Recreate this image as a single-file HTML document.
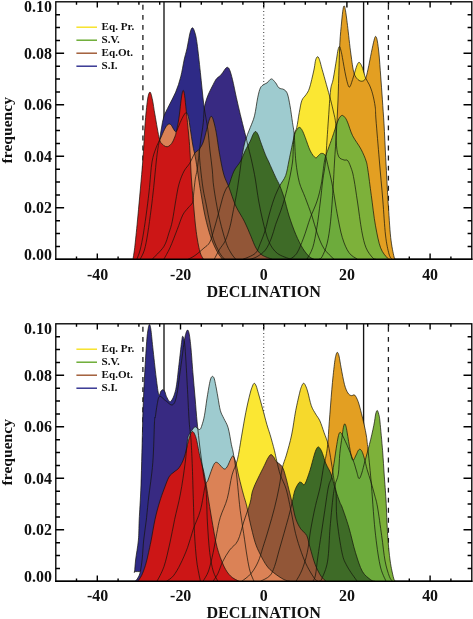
<!DOCTYPE html>
<html><head><meta charset="utf-8"><title>Declination frequency</title>
<style>
html,body{margin:0;padding:0;background:#fff;}
svg{display:block}
text{font-family:"Liberation Serif",serif;font-weight:bold;fill:#111}
.tk{font-size:16.8px}
.ax{font-size:16.5px}
.lg{font-size:11.1px}
</style></head><body>
<svg width="473" height="619" viewBox="0 0 473 619">
<rect width="473" height="619" fill="#fff"/>
<g transform="translate(0,0.0)">
<rect x="55.8" y="1.8" width="416" height="257.5" fill="none" stroke="#000" stroke-width="1.35"/>
<path d="M76.50,259.3v-2.9M76.50,1.8v2.9M97.30,259.3v-5.8M97.30,1.8v5.8M118.10,259.3v-2.9M118.10,1.8v2.9M138.90,259.3v-2.9M138.90,1.8v2.9M159.70,259.3v-2.9M159.70,1.8v2.9M180.50,259.3v-5.8M180.50,1.8v5.8M201.30,259.3v-2.9M201.30,1.8v2.9M222.10,259.3v-2.9M222.10,1.8v2.9M242.90,259.3v-2.9M242.90,1.8v2.9M263.70,259.3v-5.8M263.70,1.8v5.8M284.50,259.3v-2.9M284.50,1.8v2.9M305.30,259.3v-2.9M305.30,1.8v2.9M326.10,259.3v-2.9M326.10,1.8v2.9M346.90,259.3v-5.8M346.90,1.8v5.8M367.70,259.3v-2.9M367.70,1.8v2.9M388.50,259.3v-2.9M388.50,1.8v2.9M409.30,259.3v-2.9M409.30,1.8v2.9M430.10,259.3v-5.8M430.10,1.8v5.8M450.90,259.3v-2.9M450.90,1.8v2.9M55.8,246.43h4.2M471.8,246.43h-4.2M55.8,233.55h4.2M471.8,233.55h-4.2M55.8,220.68h4.2M471.8,220.68h-4.2M55.8,207.80h8.3M471.8,207.80h-8.3M55.8,194.93h4.2M471.8,194.93h-4.2M55.8,182.05h4.2M471.8,182.05h-4.2M55.8,169.18h4.2M471.8,169.18h-4.2M55.8,156.30h8.3M471.8,156.30h-8.3M55.8,143.43h4.2M471.8,143.43h-4.2M55.8,130.55h4.2M471.8,130.55h-4.2M55.8,117.68h4.2M471.8,117.68h-4.2M55.8,104.80h8.3M471.8,104.80h-8.3M55.8,91.93h4.2M471.8,91.93h-4.2M55.8,79.05h4.2M471.8,79.05h-4.2M55.8,66.18h4.2M471.8,66.18h-4.2M55.8,53.30h8.3M471.8,53.30h-8.3M55.8,40.43h4.2M471.8,40.43h-4.2M55.8,27.55h4.2M471.8,27.55h-4.2M55.8,14.68h4.2M471.8,14.68h-4.2" stroke="#000" stroke-width="1.4" fill="none"/>
<line x1="142.9" y1="1.8" x2="142.9" y2="259.3" stroke="#1c1c1c" stroke-width="1.3" stroke-dasharray="4.9,5.15" stroke-dashoffset="-3.05"/>
<line x1="388.4" y1="1.8" x2="388.4" y2="259.3" stroke="#1c1c1c" stroke-width="1.3" stroke-dasharray="4.9,5.15" stroke-dashoffset="-3.05"/>
<line x1="164" y1="2" x2="164" y2="259.3" stroke="#141414" stroke-width="1.35"/>
<line x1="363.6" y1="2" x2="363.6" y2="259.3" stroke="#141414" stroke-width="1.35"/>
<line x1="263.7" y1="1.8" x2="263.7" y2="259.3" stroke="#4a4a4a" stroke-width="1.1" stroke-dasharray="1.2,2.3" stroke-dashoffset="-2.1"/>
<clipPath id="clipa"><rect x="56" y="2" width="415.5" height="257.3"/></clipPath>
<g clip-path="url(#clipa)">
<path d="M140.1,259.3C140.8,257.8 143.1,254.4 144.4,250.0C145.7,245.6 146.7,239.8 147.8,233.0C148.9,226.2 150.1,217.0 151.1,209.4C152.1,201.8 152.8,195.3 153.7,187.4C154.5,179.5 155.5,168.6 156.2,162.0C156.9,155.4 157.4,151.8 158.0,148.0C158.6,144.2 159.0,142.8 159.6,139.5C160.2,136.2 160.8,131.8 161.5,128.0C162.2,124.2 162.6,120.4 163.8,116.7C165.0,113.0 166.9,109.8 168.9,105.7C170.9,101.6 173.7,96.9 175.7,92.1C177.7,87.3 179.3,82.2 180.7,76.9C182.1,71.6 183.1,64.7 184.1,60.0C185.1,55.3 185.9,53.4 186.9,48.9C187.9,44.4 189.1,36.5 190.0,33.0C190.9,29.5 191.7,27.8 192.5,27.8C193.3,27.8 194.2,30.3 195.0,33.0C195.8,35.7 196.2,37.2 197.1,43.8C198.0,50.4 199.3,62.4 200.4,72.6C201.5,82.8 202.6,95.2 203.8,104.7C205.0,114.2 206.8,121.7 207.8,129.4C208.8,137.1 209.2,144.2 210.0,151.0C210.8,157.8 211.7,163.9 212.3,170.0C212.9,176.1 212.7,179.7 213.8,187.4C214.9,195.1 216.9,207.1 218.9,216.1C220.9,225.1 223.7,235.3 225.7,241.5C227.7,247.7 229.3,250.0 231.0,253.0C232.7,256.0 235.0,258.2 235.8,259.3Z" fill="#2e2a86"/>
<path d="M163.8,259.3C164.8,257.4 167.8,252.6 170.0,247.7C172.2,242.8 175.1,235.0 177.2,229.6C179.3,224.2 180.9,218.7 182.7,215.1C184.5,211.5 186.4,210.0 188.1,207.9C189.8,205.8 191.7,204.6 192.6,202.5C193.5,200.4 193.1,199.1 193.5,195.2C193.9,191.3 194.7,183.2 195.3,179.0C195.9,174.8 196.5,174.0 197.1,170.0C197.7,166.0 198.4,159.7 199.0,155.0C199.6,150.3 199.8,147.3 200.5,141.9C201.2,136.5 202.7,128.2 203.3,122.6C203.9,116.9 203.8,111.9 204.3,108.0C204.9,104.1 205.8,101.6 206.6,99.0C207.4,96.4 208.1,94.9 209.2,92.5C210.3,90.1 211.9,87.0 213.1,84.7C214.3,82.4 215.0,80.5 216.3,78.9C217.6,77.3 219.6,76.4 220.9,75.0C222.2,73.6 223.2,71.7 224.1,70.5C224.9,69.3 225.5,68.5 226.0,68.0C226.5,67.5 226.9,67.3 227.3,67.3C227.7,67.3 228.2,67.5 228.6,68.0C229.0,68.5 229.2,68.6 229.9,70.5C230.6,72.4 231.4,75.1 232.5,79.6C233.6,84.1 235.1,91.9 236.4,97.7C237.7,103.5 238.9,108.7 240.3,114.5C241.7,120.3 243.4,127.0 244.8,132.6C246.2,138.2 247.3,143.1 248.5,148.0C249.7,152.9 250.8,156.8 251.9,162.0C253.0,167.2 254.2,172.5 255.3,179.0C256.4,185.5 257.4,194.0 258.7,201.0C260.0,208.0 261.2,214.4 262.9,221.2C264.6,227.9 266.4,236.2 268.8,241.5C271.2,246.8 273.6,250.3 277.3,253.3C281.0,256.3 288.6,258.3 290.8,259.3Z" fill="#382a82"/>
<path d="M214.2,259.3C215.1,257.7 217.6,252.7 219.4,249.6C221.2,246.5 223.6,244.4 225.3,240.7C227.0,237.0 228.4,232.6 229.8,227.4C231.2,222.2 232.4,215.0 233.5,209.6C234.6,204.2 235.5,199.7 236.4,194.8C237.3,189.9 238.0,184.6 238.7,180.0C239.4,175.4 239.9,171.3 240.5,167.0C241.1,162.7 241.6,158.6 242.4,154.3C243.2,150.0 243.8,145.6 245.1,141.2C246.4,136.8 248.6,131.9 250.2,127.7C251.8,123.5 253.2,120.9 254.5,115.8C255.8,110.7 256.8,101.8 257.8,97.2C258.8,92.6 259.4,90.0 260.4,87.9C261.4,85.8 262.7,85.3 263.8,84.5C264.9,83.7 265.8,83.7 267.1,82.8C268.4,81.9 270.0,78.9 271.4,78.9C272.8,78.9 274.3,81.3 275.6,82.8C276.9,84.3 277.6,86.8 279.0,87.9C280.4,89.0 282.6,88.6 284.0,89.6C285.4,90.6 286.4,91.1 287.4,93.8C288.4,96.5 289.1,100.9 290.0,105.7C290.9,110.5 291.8,117.8 292.5,122.6C293.2,127.4 293.6,127.8 294.2,134.4C294.8,141.0 295.0,154.0 295.9,162.0C296.8,170.0 297.8,176.4 299.3,182.3C300.9,188.2 303.1,191.9 305.2,197.5C307.3,203.1 310.0,210.2 312.0,216.1C314.0,222.0 315.1,227.6 317.1,233.0C319.1,238.4 321.0,243.9 323.8,248.3C326.6,252.7 332.3,257.5 334.0,259.3Z" fill="#9ecbcf"/>
<path d="M250.0,259.3C251.2,258.9 254.4,258.2 257.0,256.7C259.6,255.1 263.0,253.1 265.4,250.0C267.8,246.9 269.7,242.3 271.4,238.1C273.1,233.9 274.1,229.1 275.6,224.6C277.2,220.1 279.1,215.5 280.7,211.0C282.2,206.5 283.5,202.6 284.9,197.5C286.3,192.4 287.8,186.5 289.1,180.6C290.4,174.7 291.8,167.4 292.5,162.0C293.2,156.6 293.0,152.6 293.3,148.0C293.6,143.4 293.6,137.8 294.2,134.4C294.8,131.0 295.8,131.4 296.7,127.7C297.6,124.0 298.4,116.9 299.3,112.4C300.2,107.9 300.7,103.5 301.8,100.6C302.9,97.6 304.7,96.8 306.0,94.7C307.3,92.6 308.2,92.0 309.5,88.0C310.8,84.0 312.7,75.4 313.7,71.0C314.7,66.6 314.9,63.7 315.3,61.5C315.8,59.3 316.0,58.8 316.4,58.0C316.8,57.2 317.2,56.7 317.6,56.7C318.0,56.7 318.4,57.2 318.8,58.0C319.2,58.8 319.4,59.6 320.0,61.5C320.6,63.4 321.0,65.5 322.1,69.3C323.2,73.1 325.0,79.5 326.4,84.6C327.8,89.7 329.4,95.2 330.6,99.8C331.8,104.4 332.6,108.0 333.5,112.0C334.4,116.0 335.2,118.2 335.7,123.8C336.2,129.4 336.0,140.3 336.5,145.8C337.0,151.3 337.6,154.4 338.8,156.8C340.1,159.2 342.5,159.3 344.0,160.0C345.5,160.7 346.5,159.1 347.8,160.7C349.1,162.3 350.6,166.5 351.7,169.7C352.8,172.9 353.1,174.6 354.1,180.0C355.1,185.4 356.2,193.6 357.5,202.0C358.8,210.4 360.3,223.1 361.7,230.7C363.1,238.3 364.2,243.2 366.0,247.7C367.8,252.2 371.0,255.9 372.7,257.8C374.4,259.7 375.4,259.1 376.0,259.3Z" fill="#fbe733"/>
<path d="M306.8,259.3C307.8,257.4 311.0,253.0 312.7,247.7C314.4,242.4 315.6,235.0 316.9,227.4C318.2,219.8 319.3,209.9 320.3,202.0C321.3,194.1 321.9,186.7 322.8,180.0C323.7,173.3 324.8,168.7 325.5,162.0C326.2,155.3 326.5,147.3 327.0,140.0C327.5,132.7 327.9,126.3 328.5,118.0C329.1,109.7 329.8,96.4 330.6,90.0C331.4,83.6 332.1,84.6 333.1,79.5C334.1,74.4 335.7,64.1 336.5,59.2C337.3,54.3 337.5,52.1 338.0,50.0C338.5,47.9 338.9,46.5 339.4,46.5C339.9,46.5 340.3,48.2 340.8,50.0C341.3,51.8 341.6,53.1 342.4,57.5C343.2,61.9 344.7,71.2 345.8,76.1C346.9,81.0 348.1,86.5 349.2,87.1C350.3,87.7 351.6,82.2 352.6,79.5C353.6,76.8 354.3,73.5 355.1,71.0C355.9,68.5 356.6,66.0 357.3,64.5C358.0,63.0 358.5,62.3 359.1,62.3C359.7,62.3 360.4,63.5 361.0,64.5C361.6,65.5 361.9,66.3 362.7,68.5C363.4,70.7 364.4,75.1 365.5,77.8C366.6,80.5 368.2,82.2 369.4,84.9C370.6,87.6 371.6,90.2 372.6,93.9C373.6,97.6 374.6,102.5 375.2,106.8C375.8,111.1 375.3,111.1 376.0,120.0C376.7,128.9 378.2,146.7 379.3,160.0C380.4,173.3 381.8,187.5 382.8,200.0C383.8,212.5 384.5,226.0 385.5,235.0C386.5,244.0 387.9,249.9 389.0,254.0C390.1,258.1 391.5,258.4 392.0,259.3Z" fill="#f6d92c"/>
<path d="M318.8,259.3C319.4,258.9 320.7,259.4 322.1,256.7C323.5,254.0 325.8,249.1 327.2,243.2C328.6,237.3 329.6,230.5 330.6,221.2C331.6,211.9 332.5,197.3 333.1,187.4C333.8,177.5 333.9,171.6 334.5,162.0C335.1,152.4 335.9,140.3 336.5,130.0C337.1,119.7 337.6,110.4 338.0,100.0C338.4,89.6 338.7,77.3 339.0,67.7C339.3,58.1 339.5,49.9 339.9,42.3C340.3,34.7 341.1,27.5 341.6,22.0C342.1,16.5 342.6,12.2 343.0,9.5C343.4,6.8 343.7,5.9 344.1,5.9C344.5,5.9 344.7,6.2 345.3,9.5C345.9,12.8 346.6,18.0 347.5,25.4C348.4,32.8 349.8,46.2 350.9,54.1C352.0,62.0 352.7,68.5 353.9,72.7C355.1,76.9 356.5,78.1 357.9,79.5C359.3,80.9 360.8,81.4 362.1,81.2C363.4,81.0 364.5,80.6 365.5,78.6C366.5,76.6 367.0,73.7 368.0,69.3C369.0,64.9 370.4,57.2 371.4,52.4C372.4,47.6 373.3,43.2 374.0,40.5C374.7,37.8 375.1,36.3 375.7,36.4C376.2,36.5 376.8,38.0 377.3,41.0C377.9,44.0 378.4,48.2 379.0,54.1C379.6,60.0 380.1,68.5 380.7,76.1C381.3,83.7 381.8,91.8 382.4,99.8C382.9,107.8 383.4,114.2 384.0,123.8C384.6,133.4 385.1,146.7 385.7,157.7C386.3,168.7 387.0,182.1 387.4,189.8C387.8,197.5 387.6,195.8 388.2,203.8C388.8,211.8 389.7,228.7 390.7,237.6C391.7,246.5 393.2,253.4 394.1,257.0C395.0,260.6 395.7,258.9 396.0,259.3Z" fill="#e39f22"/>
<path d="M290.0,259.3C291.1,258.3 294.6,256.8 296.8,253.3C299.1,249.8 301.2,244.0 303.5,238.1C305.8,232.2 308.0,224.0 310.3,217.8C312.6,211.6 315.3,206.5 317.1,200.9C318.9,195.3 320.0,190.8 321.3,184.0C322.6,177.2 323.6,165.8 324.7,160.0C325.8,154.2 326.8,153.0 328.1,149.2C329.4,145.4 330.8,141.9 332.3,137.4C333.9,132.9 336.1,125.5 337.4,122.1C338.7,118.7 339.2,118.1 340.0,117.0C340.8,115.9 341.6,115.3 342.4,115.4C343.2,115.5 344.1,116.4 345.0,117.5C345.9,118.6 346.2,119.1 347.5,122.1C348.8,125.1 350.4,131.2 352.6,135.7C354.9,140.2 358.8,145.0 361.0,149.2C363.2,153.4 365.0,157.5 366.1,161.0C367.2,164.5 367.0,164.3 367.9,170.0C368.8,175.7 370.0,186.1 371.3,195.4C372.6,204.7 373.9,217.1 375.5,225.8C377.1,234.5 378.6,242.4 380.6,247.8C382.6,253.2 385.8,256.1 387.4,258.0C389.0,259.9 389.6,259.1 390.0,259.3Z" fill="#7db13a"/>
<path d="M243.0,259.3C245.1,258.3 252.4,256.0 255.3,253.3C258.2,250.6 258.7,247.1 260.4,243.2C262.1,239.3 264.0,234.2 265.4,229.7C266.8,225.2 267.4,221.2 268.8,216.1C270.2,211.0 272.1,204.3 273.9,199.2C275.7,194.1 277.8,189.6 279.8,185.7C281.8,181.8 284.1,179.8 285.7,175.5C287.2,171.2 287.7,166.6 289.1,160.0C290.5,153.4 292.9,141.2 294.2,136.1C295.5,131.0 296.1,130.9 297.0,129.5C297.9,128.1 298.7,127.2 299.6,127.4C300.5,127.6 301.4,128.8 302.3,130.5C303.2,132.2 303.9,134.0 305.2,137.4C306.5,140.8 308.6,147.5 310.3,150.9C312.0,154.3 314.0,156.9 315.4,157.7C316.8,158.5 317.5,156.2 318.5,155.5C319.5,154.8 320.2,153.4 321.3,153.4C322.4,153.4 324.0,153.1 325.2,155.5C326.4,157.9 327.5,163.9 328.5,168.0C329.5,172.1 330.4,175.8 331.3,180.0C332.2,184.2 332.8,187.9 333.8,193.5C334.8,199.1 335.8,206.5 337.2,213.8C338.6,221.1 340.3,231.0 342.3,237.5C344.3,244.0 346.5,249.1 349.0,252.7C351.5,256.3 356.1,258.2 357.5,259.3Z" fill="#6dab3c"/>
<path d="M188.0,259.3C189.2,258.7 192.3,257.4 195.0,255.5C197.7,253.6 201.4,250.3 203.9,248.1C206.4,245.9 208.1,245.4 209.8,242.2C211.5,239.0 212.7,233.7 214.2,228.8C215.7,223.9 217.2,218.0 218.7,212.6C220.2,207.2 221.8,200.5 223.1,196.3C224.4,192.1 225.8,189.4 226.8,187.6C227.8,185.8 227.7,188.0 228.9,185.2C230.1,182.4 232.0,175.0 234.0,171.0C236.0,167.0 238.9,164.3 240.7,161.0C242.5,157.7 243.4,154.3 245.0,151.0C246.6,147.7 248.9,143.9 250.2,141.2C251.5,138.4 252.1,136.1 253.0,134.5C253.9,132.9 254.7,131.5 255.5,131.5C256.3,131.5 257.2,132.9 258.0,134.5C258.8,136.1 259.2,137.8 260.4,141.2C261.6,144.6 264.0,151.2 265.4,154.7C266.8,158.2 267.1,158.2 268.8,162.0C270.5,165.8 273.8,173.2 275.6,177.2C277.4,181.1 278.4,182.3 279.8,185.7C281.2,189.1 282.4,192.4 284.0,197.5C285.6,202.6 287.1,209.9 289.1,216.1C291.1,222.3 293.6,229.3 295.9,234.7C298.2,240.1 300.4,244.6 302.7,248.3C304.9,252.0 307.5,254.9 309.4,256.7C311.3,258.5 313.2,258.9 314.0,259.3Z" fill="#3e6b27"/>
<path d="M152.0,259.3C154.0,257.2 161.0,251.0 163.8,246.6C166.6,242.2 167.5,237.2 168.9,233.0C170.3,228.8 171.2,226.5 172.3,221.2C173.4,215.8 174.6,207.1 175.7,200.9C176.8,194.7 177.6,189.0 179.0,184.0C180.4,179.0 182.3,174.4 184.1,171.0C185.9,167.6 187.9,166.3 189.7,163.3C191.5,160.3 193.2,155.5 194.8,153.2C196.4,150.8 197.9,151.1 199.3,149.2C200.7,147.3 202.1,145.2 203.3,141.9C204.5,138.6 205.7,133.1 206.7,129.4C207.7,125.8 208.4,122.2 209.2,120.0C209.9,117.8 210.5,116.4 211.2,116.4C211.9,116.4 212.5,117.3 213.3,120.0C214.1,122.7 215.1,126.6 216.2,132.3C217.2,138.0 218.3,147.2 219.6,154.3C220.9,161.4 222.2,169.1 223.8,174.6C225.4,180.1 227.0,182.2 229.0,187.4C231.0,192.6 233.2,200.4 235.8,206.0C238.4,211.6 241.8,216.1 244.3,221.2C246.8,226.3 249.1,231.9 251.0,236.4C252.9,240.9 254.2,244.9 256.0,248.0C257.8,251.1 259.3,253.1 262.0,255.0C264.7,256.9 270.5,258.6 272.2,259.3Z" fill="#925637"/>
<path d="M136.8,259.3C137.4,257.8 139.0,254.4 140.1,250.0C141.2,245.6 142.4,239.8 143.5,233.0C144.6,226.2 145.9,217.0 146.9,209.4C147.9,201.8 148.7,195.3 149.5,187.4C150.3,179.5 150.9,168.6 152.0,162.0C153.1,155.4 154.6,152.0 156.0,148.0C157.4,144.0 159.3,141.1 160.7,138.0C162.1,134.9 163.4,131.6 164.5,129.5C165.6,127.4 166.2,126.2 167.0,125.3C167.8,124.4 168.8,124.0 169.5,124.0C170.2,124.0 170.8,124.7 171.5,125.5C172.2,126.3 172.7,128.0 173.5,129.0C174.3,130.0 175.1,132.6 176.2,131.5C177.3,130.4 178.8,125.5 180.1,122.7C181.4,119.9 182.9,116.6 184.0,114.9C185.1,113.2 185.8,112.3 186.6,112.8C187.4,113.3 188.0,115.4 188.6,118.0C189.2,120.6 189.5,123.8 190.2,128.3C190.9,132.8 192.0,140.5 192.8,145.2C193.6,149.9 194.5,152.8 195.2,156.6C195.9,160.4 196.2,162.2 197.1,168.0C198.0,173.8 199.3,183.4 200.7,191.6C202.1,199.8 203.6,209.5 205.3,217.0C207.0,224.5 208.8,231.1 210.7,236.8C212.6,242.5 215.0,247.6 217.0,251.3C219.0,255.1 221.6,258.0 222.5,259.3Z" fill="#db8256"/>
<path d="M133.0,259.3C133.3,256.9 134.2,252.4 135.0,245.0C135.8,237.6 136.7,228.8 138.0,215.0C139.3,201.2 141.5,177.0 142.7,162.0C143.9,147.0 144.2,135.3 145.0,125.0C145.8,114.7 146.7,105.5 147.5,100.0C148.3,94.5 149.2,92.1 150.0,92.1C150.8,92.1 151.7,96.2 152.5,100.0C153.3,103.8 153.8,108.4 155.0,115.0C156.2,121.6 158.2,134.5 159.6,139.5C161.0,144.5 162.2,143.7 163.3,144.9C164.4,146.1 165.1,146.4 166.0,146.6C166.9,146.8 167.6,146.8 168.5,146.3C169.4,145.8 170.7,144.8 171.7,143.4C172.7,142.1 173.6,140.0 174.3,138.2C175.1,136.4 175.4,135.6 176.2,132.4C176.9,129.2 178.1,123.7 178.8,118.8C179.6,113.9 180.2,107.4 180.7,103.3C181.2,99.2 181.6,96.3 182.0,94.2C182.4,92.1 182.9,90.3 183.3,90.5C183.7,90.7 184.1,92.0 184.6,95.5C185.1,99.0 185.6,104.9 186.3,111.3C187.0,117.7 188.0,127.5 188.6,134.0C189.2,140.4 189.4,142.8 189.9,150.0C190.4,157.2 190.7,168.0 191.3,177.0C191.9,186.0 192.7,194.9 193.5,204.0C194.3,213.1 195.1,223.5 196.2,231.4C197.2,239.3 198.6,246.7 199.8,251.3C201.0,256.0 202.9,258.0 203.5,259.3Z" fill="#cc1616"/>
<path d="M140.1,259.3C140.8,257.8 143.1,254.4 144.4,250.0C145.7,245.6 146.7,239.8 147.8,233.0C148.9,226.2 150.1,217.0 151.1,209.4C152.1,201.8 152.8,195.3 153.7,187.4C154.5,179.5 155.5,168.6 156.2,162.0C156.9,155.4 157.4,151.8 158.0,148.0C158.6,144.2 159.0,142.8 159.6,139.5C160.2,136.2 160.8,131.8 161.5,128.0C162.2,124.2 162.6,120.4 163.8,116.7C165.0,113.0 166.9,109.8 168.9,105.7C170.9,101.6 173.7,96.9 175.7,92.1C177.7,87.3 179.3,82.2 180.7,76.9C182.1,71.6 183.1,64.7 184.1,60.0C185.1,55.3 185.9,53.4 186.9,48.9C187.9,44.4 189.1,36.5 190.0,33.0C190.9,29.5 191.7,27.8 192.5,27.8C193.3,27.8 194.2,30.3 195.0,33.0C195.8,35.7 196.2,37.2 197.1,43.8C198.0,50.4 199.3,62.4 200.4,72.6C201.5,82.8 202.6,95.2 203.8,104.7C205.0,114.2 206.8,121.7 207.8,129.4C208.8,137.1 209.2,144.2 210.0,151.0C210.8,157.8 211.7,163.9 212.3,170.0C212.9,176.1 212.7,179.7 213.8,187.4C214.9,195.1 216.9,207.1 218.9,216.1C220.9,225.1 223.7,235.3 225.7,241.5C227.7,247.7 229.3,250.0 231.0,253.0C232.7,256.0 235.0,258.2 235.8,259.3" fill="none" stroke="#15150c" stroke-opacity="0.85" stroke-width="0.85"/>
<path d="M163.8,259.3C164.8,257.4 167.8,252.6 170.0,247.7C172.2,242.8 175.1,235.0 177.2,229.6C179.3,224.2 180.9,218.7 182.7,215.1C184.5,211.5 186.4,210.0 188.1,207.9C189.8,205.8 191.7,204.6 192.6,202.5C193.5,200.4 193.1,199.1 193.5,195.2C193.9,191.3 194.7,183.2 195.3,179.0C195.9,174.8 196.5,174.0 197.1,170.0C197.7,166.0 198.4,159.7 199.0,155.0C199.6,150.3 199.8,147.3 200.5,141.9C201.2,136.5 202.7,128.2 203.3,122.6C203.9,116.9 203.8,111.9 204.3,108.0C204.9,104.1 205.8,101.6 206.6,99.0C207.4,96.4 208.1,94.9 209.2,92.5C210.3,90.1 211.9,87.0 213.1,84.7C214.3,82.4 215.0,80.5 216.3,78.9C217.6,77.3 219.6,76.4 220.9,75.0C222.2,73.6 223.2,71.7 224.1,70.5C224.9,69.3 225.5,68.5 226.0,68.0C226.5,67.5 226.9,67.3 227.3,67.3C227.7,67.3 228.2,67.5 228.6,68.0C229.0,68.5 229.2,68.6 229.9,70.5C230.6,72.4 231.4,75.1 232.5,79.6C233.6,84.1 235.1,91.9 236.4,97.7C237.7,103.5 238.9,108.7 240.3,114.5C241.7,120.3 243.4,127.0 244.8,132.6C246.2,138.2 247.3,143.1 248.5,148.0C249.7,152.9 250.8,156.8 251.9,162.0C253.0,167.2 254.2,172.5 255.3,179.0C256.4,185.5 257.4,194.0 258.7,201.0C260.0,208.0 261.2,214.4 262.9,221.2C264.6,227.9 266.4,236.2 268.8,241.5C271.2,246.8 273.6,250.3 277.3,253.3C281.0,256.3 288.6,258.3 290.8,259.3" fill="none" stroke="#15150c" stroke-opacity="0.85" stroke-width="0.85"/>
<path d="M214.2,259.3C215.1,257.7 217.6,252.7 219.4,249.6C221.2,246.5 223.6,244.4 225.3,240.7C227.0,237.0 228.4,232.6 229.8,227.4C231.2,222.2 232.4,215.0 233.5,209.6C234.6,204.2 235.5,199.7 236.4,194.8C237.3,189.9 238.0,184.6 238.7,180.0C239.4,175.4 239.9,171.3 240.5,167.0C241.1,162.7 241.6,158.6 242.4,154.3C243.2,150.0 243.8,145.6 245.1,141.2C246.4,136.8 248.6,131.9 250.2,127.7C251.8,123.5 253.2,120.9 254.5,115.8C255.8,110.7 256.8,101.8 257.8,97.2C258.8,92.6 259.4,90.0 260.4,87.9C261.4,85.8 262.7,85.3 263.8,84.5C264.9,83.7 265.8,83.7 267.1,82.8C268.4,81.9 270.0,78.9 271.4,78.9C272.8,78.9 274.3,81.3 275.6,82.8C276.9,84.3 277.6,86.8 279.0,87.9C280.4,89.0 282.6,88.6 284.0,89.6C285.4,90.6 286.4,91.1 287.4,93.8C288.4,96.5 289.1,100.9 290.0,105.7C290.9,110.5 291.8,117.8 292.5,122.6C293.2,127.4 293.6,127.8 294.2,134.4C294.8,141.0 295.0,154.0 295.9,162.0C296.8,170.0 297.8,176.4 299.3,182.3C300.9,188.2 303.1,191.9 305.2,197.5C307.3,203.1 310.0,210.2 312.0,216.1C314.0,222.0 315.1,227.6 317.1,233.0C319.1,238.4 321.0,243.9 323.8,248.3C326.6,252.7 332.3,257.5 334.0,259.3" fill="none" stroke="#15150c" stroke-opacity="0.85" stroke-width="0.85"/>
<path d="M250.0,259.3C251.2,258.9 254.4,258.2 257.0,256.7C259.6,255.1 263.0,253.1 265.4,250.0C267.8,246.9 269.7,242.3 271.4,238.1C273.1,233.9 274.1,229.1 275.6,224.6C277.2,220.1 279.1,215.5 280.7,211.0C282.2,206.5 283.5,202.6 284.9,197.5C286.3,192.4 287.8,186.5 289.1,180.6C290.4,174.7 291.8,167.4 292.5,162.0C293.2,156.6 293.0,152.6 293.3,148.0C293.6,143.4 293.6,137.8 294.2,134.4C294.8,131.0 295.8,131.4 296.7,127.7C297.6,124.0 298.4,116.9 299.3,112.4C300.2,107.9 300.7,103.5 301.8,100.6C302.9,97.6 304.7,96.8 306.0,94.7C307.3,92.6 308.2,92.0 309.5,88.0C310.8,84.0 312.7,75.4 313.7,71.0C314.7,66.6 314.9,63.7 315.3,61.5C315.8,59.3 316.0,58.8 316.4,58.0C316.8,57.2 317.2,56.7 317.6,56.7C318.0,56.7 318.4,57.2 318.8,58.0C319.2,58.8 319.4,59.6 320.0,61.5C320.6,63.4 321.0,65.5 322.1,69.3C323.2,73.1 325.0,79.5 326.4,84.6C327.8,89.7 329.4,95.2 330.6,99.8C331.8,104.4 332.6,108.0 333.5,112.0C334.4,116.0 335.2,118.2 335.7,123.8C336.2,129.4 336.0,140.3 336.5,145.8C337.0,151.3 337.6,154.4 338.8,156.8C340.1,159.2 342.5,159.3 344.0,160.0C345.5,160.7 346.5,159.1 347.8,160.7C349.1,162.3 350.6,166.5 351.7,169.7C352.8,172.9 353.1,174.6 354.1,180.0C355.1,185.4 356.2,193.6 357.5,202.0C358.8,210.4 360.3,223.1 361.7,230.7C363.1,238.3 364.2,243.2 366.0,247.7C367.8,252.2 371.0,255.9 372.7,257.8C374.4,259.7 375.4,259.1 376.0,259.3" fill="none" stroke="#15150c" stroke-opacity="0.85" stroke-width="0.85"/>
<path d="M306.8,259.3C307.8,257.4 311.0,253.0 312.7,247.7C314.4,242.4 315.6,235.0 316.9,227.4C318.2,219.8 319.3,209.9 320.3,202.0C321.3,194.1 321.9,186.7 322.8,180.0C323.7,173.3 324.8,168.7 325.5,162.0C326.2,155.3 326.5,147.3 327.0,140.0C327.5,132.7 327.9,126.3 328.5,118.0C329.1,109.7 329.8,96.4 330.6,90.0C331.4,83.6 332.1,84.6 333.1,79.5C334.1,74.4 335.7,64.1 336.5,59.2C337.3,54.3 337.5,52.1 338.0,50.0C338.5,47.9 338.9,46.5 339.4,46.5C339.9,46.5 340.3,48.2 340.8,50.0C341.3,51.8 341.6,53.1 342.4,57.5C343.2,61.9 344.7,71.2 345.8,76.1C346.9,81.0 348.1,86.5 349.2,87.1C350.3,87.7 351.6,82.2 352.6,79.5C353.6,76.8 354.3,73.5 355.1,71.0C355.9,68.5 356.6,66.0 357.3,64.5C358.0,63.0 358.5,62.3 359.1,62.3C359.7,62.3 360.4,63.5 361.0,64.5C361.6,65.5 361.9,66.3 362.7,68.5C363.4,70.7 364.4,75.1 365.5,77.8C366.6,80.5 368.2,82.2 369.4,84.9C370.6,87.6 371.6,90.2 372.6,93.9C373.6,97.6 374.6,102.5 375.2,106.8C375.8,111.1 375.3,111.1 376.0,120.0C376.7,128.9 378.2,146.7 379.3,160.0C380.4,173.3 381.8,187.5 382.8,200.0C383.8,212.5 384.5,226.0 385.5,235.0C386.5,244.0 387.9,249.9 389.0,254.0C390.1,258.1 391.5,258.4 392.0,259.3" fill="none" stroke="#15150c" stroke-opacity="0.85" stroke-width="0.85"/>
<path d="M318.8,259.3C319.4,258.9 320.7,259.4 322.1,256.7C323.5,254.0 325.8,249.1 327.2,243.2C328.6,237.3 329.6,230.5 330.6,221.2C331.6,211.9 332.5,197.3 333.1,187.4C333.8,177.5 333.9,171.6 334.5,162.0C335.1,152.4 335.9,140.3 336.5,130.0C337.1,119.7 337.6,110.4 338.0,100.0C338.4,89.6 338.7,77.3 339.0,67.7C339.3,58.1 339.5,49.9 339.9,42.3C340.3,34.7 341.1,27.5 341.6,22.0C342.1,16.5 342.6,12.2 343.0,9.5C343.4,6.8 343.7,5.9 344.1,5.9C344.5,5.9 344.7,6.2 345.3,9.5C345.9,12.8 346.6,18.0 347.5,25.4C348.4,32.8 349.8,46.2 350.9,54.1C352.0,62.0 352.7,68.5 353.9,72.7C355.1,76.9 356.5,78.1 357.9,79.5C359.3,80.9 360.8,81.4 362.1,81.2C363.4,81.0 364.5,80.6 365.5,78.6C366.5,76.6 367.0,73.7 368.0,69.3C369.0,64.9 370.4,57.2 371.4,52.4C372.4,47.6 373.3,43.2 374.0,40.5C374.7,37.8 375.1,36.3 375.7,36.4C376.2,36.5 376.8,38.0 377.3,41.0C377.9,44.0 378.4,48.2 379.0,54.1C379.6,60.0 380.1,68.5 380.7,76.1C381.3,83.7 381.8,91.8 382.4,99.8C382.9,107.8 383.4,114.2 384.0,123.8C384.6,133.4 385.1,146.7 385.7,157.7C386.3,168.7 387.0,182.1 387.4,189.8C387.8,197.5 387.6,195.8 388.2,203.8C388.8,211.8 389.7,228.7 390.7,237.6C391.7,246.5 393.2,253.4 394.1,257.0C395.0,260.6 395.7,258.9 396.0,259.3" fill="none" stroke="#15150c" stroke-opacity="0.85" stroke-width="0.85"/>
<path d="M290.0,259.3C291.1,258.3 294.6,256.8 296.8,253.3C299.1,249.8 301.2,244.0 303.5,238.1C305.8,232.2 308.0,224.0 310.3,217.8C312.6,211.6 315.3,206.5 317.1,200.9C318.9,195.3 320.0,190.8 321.3,184.0C322.6,177.2 323.6,165.8 324.7,160.0C325.8,154.2 326.8,153.0 328.1,149.2C329.4,145.4 330.8,141.9 332.3,137.4C333.9,132.9 336.1,125.5 337.4,122.1C338.7,118.7 339.2,118.1 340.0,117.0C340.8,115.9 341.6,115.3 342.4,115.4C343.2,115.5 344.1,116.4 345.0,117.5C345.9,118.6 346.2,119.1 347.5,122.1C348.8,125.1 350.4,131.2 352.6,135.7C354.9,140.2 358.8,145.0 361.0,149.2C363.2,153.4 365.0,157.5 366.1,161.0C367.2,164.5 367.0,164.3 367.9,170.0C368.8,175.7 370.0,186.1 371.3,195.4C372.6,204.7 373.9,217.1 375.5,225.8C377.1,234.5 378.6,242.4 380.6,247.8C382.6,253.2 385.8,256.1 387.4,258.0C389.0,259.9 389.6,259.1 390.0,259.3" fill="none" stroke="#15150c" stroke-opacity="0.85" stroke-width="0.85"/>
<path d="M243.0,259.3C245.1,258.3 252.4,256.0 255.3,253.3C258.2,250.6 258.7,247.1 260.4,243.2C262.1,239.3 264.0,234.2 265.4,229.7C266.8,225.2 267.4,221.2 268.8,216.1C270.2,211.0 272.1,204.3 273.9,199.2C275.7,194.1 277.8,189.6 279.8,185.7C281.8,181.8 284.1,179.8 285.7,175.5C287.2,171.2 287.7,166.6 289.1,160.0C290.5,153.4 292.9,141.2 294.2,136.1C295.5,131.0 296.1,130.9 297.0,129.5C297.9,128.1 298.7,127.2 299.6,127.4C300.5,127.6 301.4,128.8 302.3,130.5C303.2,132.2 303.9,134.0 305.2,137.4C306.5,140.8 308.6,147.5 310.3,150.9C312.0,154.3 314.0,156.9 315.4,157.7C316.8,158.5 317.5,156.2 318.5,155.5C319.5,154.8 320.2,153.4 321.3,153.4C322.4,153.4 324.0,153.1 325.2,155.5C326.4,157.9 327.5,163.9 328.5,168.0C329.5,172.1 330.4,175.8 331.3,180.0C332.2,184.2 332.8,187.9 333.8,193.5C334.8,199.1 335.8,206.5 337.2,213.8C338.6,221.1 340.3,231.0 342.3,237.5C344.3,244.0 346.5,249.1 349.0,252.7C351.5,256.3 356.1,258.2 357.5,259.3" fill="none" stroke="#15150c" stroke-opacity="0.85" stroke-width="0.85"/>
<path d="M188.0,259.3C189.2,258.7 192.3,257.4 195.0,255.5C197.7,253.6 201.4,250.3 203.9,248.1C206.4,245.9 208.1,245.4 209.8,242.2C211.5,239.0 212.7,233.7 214.2,228.8C215.7,223.9 217.2,218.0 218.7,212.6C220.2,207.2 221.8,200.5 223.1,196.3C224.4,192.1 225.8,189.4 226.8,187.6C227.8,185.8 227.7,188.0 228.9,185.2C230.1,182.4 232.0,175.0 234.0,171.0C236.0,167.0 238.9,164.3 240.7,161.0C242.5,157.7 243.4,154.3 245.0,151.0C246.6,147.7 248.9,143.9 250.2,141.2C251.5,138.4 252.1,136.1 253.0,134.5C253.9,132.9 254.7,131.5 255.5,131.5C256.3,131.5 257.2,132.9 258.0,134.5C258.8,136.1 259.2,137.8 260.4,141.2C261.6,144.6 264.0,151.2 265.4,154.7C266.8,158.2 267.1,158.2 268.8,162.0C270.5,165.8 273.8,173.2 275.6,177.2C277.4,181.1 278.4,182.3 279.8,185.7C281.2,189.1 282.4,192.4 284.0,197.5C285.6,202.6 287.1,209.9 289.1,216.1C291.1,222.3 293.6,229.3 295.9,234.7C298.2,240.1 300.4,244.6 302.7,248.3C304.9,252.0 307.5,254.9 309.4,256.7C311.3,258.5 313.2,258.9 314.0,259.3" fill="none" stroke="#15150c" stroke-opacity="0.85" stroke-width="0.85"/>
<path d="M152.0,259.3C154.0,257.2 161.0,251.0 163.8,246.6C166.6,242.2 167.5,237.2 168.9,233.0C170.3,228.8 171.2,226.5 172.3,221.2C173.4,215.8 174.6,207.1 175.7,200.9C176.8,194.7 177.6,189.0 179.0,184.0C180.4,179.0 182.3,174.4 184.1,171.0C185.9,167.6 187.9,166.3 189.7,163.3C191.5,160.3 193.2,155.5 194.8,153.2C196.4,150.8 197.9,151.1 199.3,149.2C200.7,147.3 202.1,145.2 203.3,141.9C204.5,138.6 205.7,133.1 206.7,129.4C207.7,125.8 208.4,122.2 209.2,120.0C209.9,117.8 210.5,116.4 211.2,116.4C211.9,116.4 212.5,117.3 213.3,120.0C214.1,122.7 215.1,126.6 216.2,132.3C217.2,138.0 218.3,147.2 219.6,154.3C220.9,161.4 222.2,169.1 223.8,174.6C225.4,180.1 227.0,182.2 229.0,187.4C231.0,192.6 233.2,200.4 235.8,206.0C238.4,211.6 241.8,216.1 244.3,221.2C246.8,226.3 249.1,231.9 251.0,236.4C252.9,240.9 254.2,244.9 256.0,248.0C257.8,251.1 259.3,253.1 262.0,255.0C264.7,256.9 270.5,258.6 272.2,259.3" fill="none" stroke="#15150c" stroke-opacity="0.85" stroke-width="0.85"/>
<path d="M136.8,259.3C137.4,257.8 139.0,254.4 140.1,250.0C141.2,245.6 142.4,239.8 143.5,233.0C144.6,226.2 145.9,217.0 146.9,209.4C147.9,201.8 148.7,195.3 149.5,187.4C150.3,179.5 150.9,168.6 152.0,162.0C153.1,155.4 154.6,152.0 156.0,148.0C157.4,144.0 159.3,141.1 160.7,138.0C162.1,134.9 163.4,131.6 164.5,129.5C165.6,127.4 166.2,126.2 167.0,125.3C167.8,124.4 168.8,124.0 169.5,124.0C170.2,124.0 170.8,124.7 171.5,125.5C172.2,126.3 172.7,128.0 173.5,129.0C174.3,130.0 175.1,132.6 176.2,131.5C177.3,130.4 178.8,125.5 180.1,122.7C181.4,119.9 182.9,116.6 184.0,114.9C185.1,113.2 185.8,112.3 186.6,112.8C187.4,113.3 188.0,115.4 188.6,118.0C189.2,120.6 189.5,123.8 190.2,128.3C190.9,132.8 192.0,140.5 192.8,145.2C193.6,149.9 194.5,152.8 195.2,156.6C195.9,160.4 196.2,162.2 197.1,168.0C198.0,173.8 199.3,183.4 200.7,191.6C202.1,199.8 203.6,209.5 205.3,217.0C207.0,224.5 208.8,231.1 210.7,236.8C212.6,242.5 215.0,247.6 217.0,251.3C219.0,255.1 221.6,258.0 222.5,259.3" fill="none" stroke="#15150c" stroke-opacity="0.85" stroke-width="0.85"/>
<path d="M133.0,259.3C133.3,256.9 134.2,252.4 135.0,245.0C135.8,237.6 136.7,228.8 138.0,215.0C139.3,201.2 141.5,177.0 142.7,162.0C143.9,147.0 144.2,135.3 145.0,125.0C145.8,114.7 146.7,105.5 147.5,100.0C148.3,94.5 149.2,92.1 150.0,92.1C150.8,92.1 151.7,96.2 152.5,100.0C153.3,103.8 153.8,108.4 155.0,115.0C156.2,121.6 158.2,134.5 159.6,139.5C161.0,144.5 162.2,143.7 163.3,144.9C164.4,146.1 165.1,146.4 166.0,146.6C166.9,146.8 167.6,146.8 168.5,146.3C169.4,145.8 170.7,144.8 171.7,143.4C172.7,142.1 173.6,140.0 174.3,138.2C175.1,136.4 175.4,135.6 176.2,132.4C176.9,129.2 178.1,123.7 178.8,118.8C179.6,113.9 180.2,107.4 180.7,103.3C181.2,99.2 181.6,96.3 182.0,94.2C182.4,92.1 182.9,90.3 183.3,90.5C183.7,90.7 184.1,92.0 184.6,95.5C185.1,99.0 185.6,104.9 186.3,111.3C187.0,117.7 188.0,127.5 188.6,134.0C189.2,140.4 189.4,142.8 189.9,150.0C190.4,157.2 190.7,168.0 191.3,177.0C191.9,186.0 192.7,194.9 193.5,204.0C194.3,213.1 195.1,223.5 196.2,231.4C197.2,239.3 198.6,246.7 199.8,251.3C201.0,256.0 202.9,258.0 203.5,259.3" fill="none" stroke="#15150c" stroke-opacity="0.85" stroke-width="0.85"/>
<path d="M199.0,150.0C199.2,153.0 199.8,161.5 200.5,168.0C201.2,174.5 202.1,182.6 203.1,188.9C204.1,195.2 205.4,200.3 206.5,206.0C207.6,211.7 208.6,217.4 209.8,222.9C211.0,228.4 211.9,234.3 213.5,239.2C215.1,244.1 217.6,249.2 219.4,252.5C221.2,255.8 223.7,258.2 224.6,259.3" fill="none" stroke="#15150c" stroke-opacity="0.85" stroke-width="0.85"/>
</g>
<line x1="55.1" y1="259.3" x2="472.5" y2="259.3" stroke="#000" stroke-width="1.5"/>
<g opacity="0.999">
<text transform="translate(52,260.0) scale(0.95,1)" text-anchor="end" class="tk">0.00</text>
<text transform="translate(52,213.3) scale(0.95,1)" text-anchor="end" class="tk">0.02</text>
<text transform="translate(52,161.8) scale(0.95,1)" text-anchor="end" class="tk">0.04</text>
<text transform="translate(52,110.3) scale(0.95,1)" text-anchor="end" class="tk">0.06</text>
<text transform="translate(52,58.8) scale(0.95,1)" text-anchor="end" class="tk">0.08</text>
<text transform="translate(52,12.0) scale(0.95,1)" text-anchor="end" class="tk">0.10</text>
<text transform="translate(97.5,279.8) scale(0.95,1)" text-anchor="middle" class="tk">-40</text>
<text transform="translate(180.7,279.8) scale(0.95,1)" text-anchor="middle" class="tk">-20</text>
<text transform="translate(263.7,279.8) scale(0.95,1)" text-anchor="middle" class="tk">0</text>
<text transform="translate(346.9,279.8) scale(0.95,1)" text-anchor="middle" class="tk">20</text>
<text transform="translate(430.1,279.8) scale(0.95,1)" text-anchor="middle" class="tk">40</text>
<text transform="translate(263.7,297.2) scale(0.98,1)" text-anchor="middle" class="ax">DECLINATION</text>
<text transform="translate(12.1,130.2) rotate(-90)" text-anchor="middle" class="ax" style="font-size:15.6px">frequency</text>
<line x1="76.4" y1="27.2" x2="97" y2="27.2" stroke="#f6e01c" stroke-width="1.4"/>
<text x="101.6" y="30.4" class="lg">Eq. Pr.</text>
<line x1="76.4" y1="40.2" x2="97" y2="40.2" stroke="#62a628" stroke-width="1.4"/>
<text x="101.6" y="43.4" class="lg">S.V.</text>
<line x1="76.4" y1="53.2" x2="97" y2="53.2" stroke="#9b532c" stroke-width="1.4"/>
<text x="101.6" y="56.4" class="lg">Eq.Ot.</text>
<line x1="76.4" y1="66.2" x2="97" y2="66.2" stroke="#2a2a8c" stroke-width="1.4"/>
<text x="101.6" y="69.4" class="lg">S.I.</text>
</g>
</g>
<g transform="translate(0,322.0)">
<rect x="55.8" y="1.8" width="416" height="257.5" fill="none" stroke="#000" stroke-width="1.35"/>
<path d="M76.50,259.3v-2.9M76.50,1.8v2.9M97.30,259.3v-5.8M97.30,1.8v5.8M118.10,259.3v-2.9M118.10,1.8v2.9M138.90,259.3v-2.9M138.90,1.8v2.9M159.70,259.3v-2.9M159.70,1.8v2.9M180.50,259.3v-5.8M180.50,1.8v5.8M201.30,259.3v-2.9M201.30,1.8v2.9M222.10,259.3v-2.9M222.10,1.8v2.9M242.90,259.3v-2.9M242.90,1.8v2.9M263.70,259.3v-5.8M263.70,1.8v5.8M284.50,259.3v-2.9M284.50,1.8v2.9M305.30,259.3v-2.9M305.30,1.8v2.9M326.10,259.3v-2.9M326.10,1.8v2.9M346.90,259.3v-5.8M346.90,1.8v5.8M367.70,259.3v-2.9M367.70,1.8v2.9M388.50,259.3v-2.9M388.50,1.8v2.9M409.30,259.3v-2.9M409.30,1.8v2.9M430.10,259.3v-5.8M430.10,1.8v5.8M450.90,259.3v-2.9M450.90,1.8v2.9M55.8,246.43h4.2M471.8,246.43h-4.2M55.8,233.55h4.2M471.8,233.55h-4.2M55.8,220.68h4.2M471.8,220.68h-4.2M55.8,207.80h8.3M471.8,207.80h-8.3M55.8,194.93h4.2M471.8,194.93h-4.2M55.8,182.05h4.2M471.8,182.05h-4.2M55.8,169.18h4.2M471.8,169.18h-4.2M55.8,156.30h8.3M471.8,156.30h-8.3M55.8,143.43h4.2M471.8,143.43h-4.2M55.8,130.55h4.2M471.8,130.55h-4.2M55.8,117.68h4.2M471.8,117.68h-4.2M55.8,104.80h8.3M471.8,104.80h-8.3M55.8,91.93h4.2M471.8,91.93h-4.2M55.8,79.05h4.2M471.8,79.05h-4.2M55.8,66.18h4.2M471.8,66.18h-4.2M55.8,53.30h8.3M471.8,53.30h-8.3M55.8,40.43h4.2M471.8,40.43h-4.2M55.8,27.55h4.2M471.8,27.55h-4.2M55.8,14.68h4.2M471.8,14.68h-4.2" stroke="#000" stroke-width="1.4" fill="none"/>
<line x1="142.9" y1="1.8" x2="142.9" y2="259.3" stroke="#1c1c1c" stroke-width="1.3" stroke-dasharray="4.9,5.15" stroke-dashoffset="-3.05"/>
<line x1="388.4" y1="1.8" x2="388.4" y2="259.3" stroke="#1c1c1c" stroke-width="1.3" stroke-dasharray="4.9,5.15" stroke-dashoffset="-3.05"/>
<line x1="164" y1="2" x2="164" y2="259.3" stroke="#141414" stroke-width="1.35"/>
<line x1="363.6" y1="2" x2="363.6" y2="259.3" stroke="#141414" stroke-width="1.35"/>
<line x1="263.7" y1="1.8" x2="263.7" y2="259.3" stroke="#4a4a4a" stroke-width="1.1" stroke-dasharray="1.2,2.3" stroke-dashoffset="-2.1"/>
<clipPath id="clipb"><rect x="56" y="2" width="415.5" height="257.3"/></clipPath>
<g clip-path="url(#clipb)">
<path d="M140.3,249.6C139.4,249.6 135.6,249.6 134.6,249.6C133.6,249.6 134.4,251.5 134.6,249.6C134.8,247.7 135.0,243.3 135.6,238.0C136.2,232.7 137.8,224.7 138.4,218.0C139.0,211.3 138.8,207.2 139.2,198.0C139.6,188.8 140.4,179.4 141.0,163.0C141.6,146.6 142.3,114.3 142.7,99.8C143.1,85.3 143.1,85.6 143.5,76.0C143.9,66.4 144.6,52.2 145.2,42.3C145.8,32.5 146.4,22.9 146.9,16.9C147.4,10.8 147.9,8.4 148.3,6.0C148.7,3.6 149.1,2.3 149.5,2.5C149.9,2.7 150.2,3.2 150.8,7.0C151.4,10.8 151.9,17.3 152.8,25.4C153.7,33.5 155.2,47.9 156.2,55.8C157.2,63.7 158.0,70.5 158.8,72.7C159.6,74.9 160.3,69.8 161.0,69.0C161.7,68.2 162.3,67.5 163.0,67.7C163.7,67.9 164.4,68.9 165.0,70.0C165.6,71.1 165.5,72.8 166.4,74.4C167.3,76.0 169.1,80.6 170.6,79.5C172.1,78.4 174.3,73.9 175.7,67.7C177.1,61.5 178.0,50.2 179.0,42.3C180.0,34.4 180.9,25.0 181.6,20.3C182.2,15.7 182.3,13.5 182.9,14.4C183.5,15.2 184.2,16.5 185.0,25.4C185.8,34.3 186.8,55.3 187.5,67.7C188.2,80.1 188.6,91.4 189.2,99.8C189.8,108.2 190.5,111.1 191.0,118.0C191.5,124.9 191.8,131.6 192.2,141.4C192.6,151.1 192.9,164.8 193.3,176.5C193.7,188.2 193.9,201.2 194.5,211.7C195.1,222.3 195.8,231.9 196.8,239.8C197.8,247.7 199.8,256.0 200.4,259.3Z" fill="#2e2a86"/>
<path d="M135.2,259.3C135.6,258.7 137.0,257.6 137.8,256.0C138.7,254.4 139.6,252.9 140.3,249.7C141.0,246.5 141.6,242.3 142.2,237.0C142.8,231.7 143.0,224.5 143.7,218.0C144.4,211.5 145.5,205.0 146.3,198.0C147.1,191.0 147.5,185.6 148.6,176.0C149.7,166.4 151.8,153.4 152.8,140.7C153.8,128.0 154.1,107.5 154.5,99.8C154.9,92.1 155.0,97.5 155.4,94.7C155.8,91.9 156.4,86.3 157.1,82.9C157.8,79.5 158.2,75.1 159.6,74.4C161.0,73.7 163.4,77.2 165.5,78.6C167.6,80.0 170.5,83.6 172.3,82.9C174.1,82.2 175.1,80.6 176.5,74.4C177.9,68.2 179.4,54.7 180.7,45.7C182.0,36.7 183.2,26.1 184.1,20.3C185.0,14.5 185.4,13.0 186.0,11.0C186.6,9.0 187.2,7.8 187.8,8.1C188.4,8.4 188.9,10.1 189.4,13.0C189.9,15.9 190.3,19.1 190.9,25.4C191.5,31.7 192.2,42.2 192.9,50.7C193.6,59.1 194.4,67.9 195.1,76.1C195.8,84.3 196.4,92.8 197.1,99.8C197.8,106.8 198.3,111.6 199.0,118.0C199.7,124.4 200.7,131.7 201.5,138.0C202.3,144.3 203.2,150.8 204.0,156.0C204.8,161.2 205.6,162.2 206.2,169.5C206.8,176.8 206.8,189.8 207.4,200.0C208.0,210.2 208.7,222.2 209.7,230.4C210.7,238.6 211.8,244.3 213.2,249.1C214.6,253.9 217.1,257.6 217.9,259.3Z" fill="#382a82"/>
<path d="M157.0,259.3C158.2,256.8 161.8,250.9 164.0,244.5C166.2,238.1 168.1,228.8 169.9,221.0C171.7,213.2 172.8,205.8 174.6,197.6C176.3,189.4 178.7,181.3 180.4,171.9C182.2,162.5 183.9,150.4 185.1,141.4C186.3,132.4 186.8,122.9 187.5,118.0C188.2,113.1 188.7,113.8 189.5,112.0C190.3,110.2 191.6,108.7 192.5,107.5C193.4,106.3 194.3,105.0 195.1,104.8C195.9,104.6 196.7,106.1 197.5,106.5C198.3,106.9 199.3,107.9 200.1,107.3C200.8,106.7 201.3,105.2 202.0,103.0C202.7,100.8 203.6,98.2 204.4,93.8C205.2,89.5 206.1,82.2 206.9,76.9C207.8,71.5 208.8,65.2 209.5,61.7C210.2,58.2 210.5,57.2 211.0,56.0C211.5,54.8 212.0,54.4 212.5,54.4C213.0,54.4 213.5,54.8 214.0,56.0C214.5,57.2 214.8,58.5 215.4,61.7C216.1,64.9 217.1,70.7 217.9,75.2C218.7,79.7 219.4,85.2 220.4,88.7C221.4,92.2 222.5,93.6 223.8,96.4C225.1,99.2 226.8,101.3 228.1,105.7C229.4,110.1 230.6,118.6 231.4,122.6C232.2,126.7 232.3,125.8 233.1,130.0C233.9,134.2 235.2,142.2 236.0,148.0C236.8,153.8 237.1,158.1 237.8,164.8C238.5,171.5 239.2,180.5 240.2,188.3C241.2,196.1 242.5,203.9 243.7,211.7C244.9,219.5 246.1,228.9 247.2,235.1C248.2,241.3 248.9,245.1 250.0,249.1C251.1,253.1 253.3,257.6 254.0,259.3Z" fill="#9ecbcf"/>
<path d="M203.0,259.3C203.9,257.6 206.8,253.9 208.5,249.1C210.2,244.3 211.8,236.6 213.2,230.4C214.6,224.2 215.5,217.6 216.7,211.7C217.9,205.9 218.5,201.2 220.3,195.3C222.1,189.4 225.4,183.5 227.3,176.5C229.2,169.5 230.3,159.6 232.0,153.1C233.7,146.7 235.8,144.3 237.4,137.8C239.0,131.3 240.2,122.0 241.6,114.1C243.0,106.2 244.4,97.4 245.8,90.4C247.2,83.3 248.9,76.2 250.0,71.8C251.1,67.4 251.8,65.8 252.5,64.0C253.2,62.2 253.7,61.3 254.3,61.3C254.9,61.3 255.5,62.2 256.2,64.0C256.9,65.8 257.4,68.0 258.5,71.8C259.6,75.6 261.3,81.9 262.7,87.0C264.1,92.1 265.6,98.1 266.8,102.3C268.0,106.5 268.7,108.1 270.0,112.4C271.3,116.7 273.3,123.9 274.4,128.3C275.5,132.8 275.8,135.0 276.8,139.1C277.8,143.2 278.8,148.4 280.4,153.1C282.0,157.8 284.4,161.3 286.2,167.2C287.9,173.1 289.3,180.9 290.9,188.3C292.5,195.7 293.9,204.7 295.6,211.7C297.4,218.7 299.4,224.9 301.4,230.4C303.3,235.9 305.1,240.2 307.3,244.5C309.5,248.8 312.5,253.7 314.3,256.2C316.1,258.7 317.4,258.8 318.0,259.3Z" fill="#fbe733"/>
<path d="M241.7,259.3C243.3,258.0 248.4,254.8 251.1,251.5C253.8,248.2 256.2,244.1 258.1,239.8C260.1,235.5 261.1,231.2 262.8,225.7C264.6,220.2 266.7,213.6 268.6,207.0C270.6,200.4 272.7,192.9 274.5,185.9C276.3,178.9 277.9,171.5 279.2,164.8C280.5,158.2 281.1,151.3 282.3,146.0C283.5,140.7 284.8,138.5 286.4,133.0C287.9,127.5 290.1,120.4 291.6,113.0C293.2,105.6 294.3,95.8 295.7,88.7C297.1,81.5 298.8,74.3 299.8,70.1C300.8,66.0 301.2,65.3 301.8,63.8C302.4,62.3 303.1,61.2 303.7,61.2C304.3,61.2 304.9,62.3 305.6,63.8C306.3,65.3 306.9,66.8 307.8,70.1C308.8,73.4 310.0,80.0 311.3,83.7C312.6,87.4 314.3,89.6 315.7,92.1C317.1,94.6 318.5,95.8 319.9,98.9C321.3,102.0 322.7,106.7 324.1,110.7C325.5,114.6 327.0,117.7 328.2,122.6C329.4,127.5 330.3,134.1 331.3,140.0C332.3,145.9 333.2,152.8 334.0,158.0C334.8,163.2 335.6,165.0 336.1,171.5C336.6,178.0 335.9,186.9 336.9,196.8C337.9,206.7 340.3,222.8 342.0,230.7C343.7,238.6 344.6,239.4 347.1,244.2C349.6,249.0 355.5,256.8 357.2,259.3Z" fill="#f6d92c"/>
<path d="M296.0,259.3C297.0,257.4 300.1,252.8 302.0,248.0C303.9,243.2 305.8,237.2 307.3,230.4C308.8,223.6 309.4,214.8 310.8,207.0C312.2,199.2 313.9,190.6 315.5,183.6C317.1,176.6 318.8,171.4 320.2,164.8C321.6,158.2 322.7,149.1 323.7,144.0C324.7,138.9 325.3,137.6 326.0,134.0C326.7,130.4 327.1,128.3 327.7,122.6C328.2,116.9 328.6,109.0 329.3,99.8C330.0,90.7 331.0,77.3 331.8,67.7C332.6,58.1 333.7,48.1 334.4,42.3C335.1,36.5 335.5,35.0 336.0,33.0C336.5,31.0 336.9,30.2 337.4,30.4C337.9,30.6 338.4,31.4 339.0,34.0C339.6,36.6 340.2,40.9 341.1,45.7C342.0,50.5 343.4,58.4 344.5,62.6C345.6,66.8 346.8,69.2 347.9,71.0C349.0,72.8 350.2,73.3 351.3,73.6C352.4,74.0 353.6,72.1 354.7,73.1C355.8,74.1 357.0,76.5 358.1,79.5C359.2,82.5 360.4,87.4 361.4,91.3C362.4,95.2 363.4,99.2 364.2,103.0C365.0,106.8 365.8,110.0 366.4,114.0C367.0,118.0 367.1,119.7 367.9,127.0C368.7,134.3 369.8,144.5 371.0,158.0C372.2,171.5 373.5,193.8 375.0,208.0C376.5,222.2 378.2,234.5 380.0,243.0C381.8,251.5 385.0,256.6 386.0,259.3Z" fill="#e39f22"/>
<path d="M313.0,259.3C313.4,258.2 314.7,257.0 315.5,253.0C316.3,249.0 316.8,242.0 317.8,235.1C318.8,228.2 320.1,219.5 321.3,211.7C322.5,203.9 323.6,196.1 324.8,188.3C326.0,180.5 327.2,170.5 328.4,165.0C329.5,159.5 330.8,159.1 331.7,155.2C332.6,151.3 333.0,147.2 333.9,141.8C334.8,136.4 336.0,127.3 336.8,122.6C337.6,117.9 338.0,115.5 338.5,113.5C339.0,111.5 339.4,110.9 339.8,110.5C340.2,110.1 340.7,110.6 341.2,111.2C341.7,111.8 341.6,111.4 342.8,114.0C344.1,116.6 346.9,122.6 348.7,127.0C350.5,131.4 352.6,136.7 353.9,140.4C355.2,144.1 355.6,146.3 356.5,149.0C357.4,151.7 358.1,156.3 359.0,156.6C359.9,156.9 360.8,154.0 361.8,151.0C362.8,148.0 363.7,143.6 365.0,138.9C366.3,134.2 367.9,128.5 369.4,122.6C370.9,116.7 372.8,108.5 373.8,103.4C374.9,98.3 375.1,94.5 375.7,92.0C376.3,89.5 376.7,88.5 377.2,88.5C377.7,88.5 378.2,90.1 378.7,92.0C379.2,93.9 379.4,93.9 380.0,100.0C380.6,106.1 381.9,119.7 382.6,128.7C383.3,137.7 383.7,145.9 384.3,154.1C384.9,162.3 385.4,167.9 386.0,177.8C386.6,187.7 387.0,203.5 387.7,213.7C388.4,223.9 389.2,232.1 390.2,239.1C391.2,246.2 392.7,252.6 393.6,256.0C394.5,259.4 395.2,258.7 395.5,259.3Z" fill="#7db13a"/>
<path d="M319.0,259.3C319.4,258.9 320.3,260.4 321.7,257.0C323.1,253.6 326.2,247.7 327.6,239.1C329.0,230.5 329.2,215.5 330.1,205.3C331.0,195.1 331.9,185.0 332.7,178.0C333.5,171.0 334.1,167.3 335.0,163.0C335.9,158.7 337.5,157.4 338.3,152.2C339.1,146.9 339.2,137.7 339.8,131.5C340.4,125.3 341.4,119.5 342.0,115.2C342.6,110.9 342.9,107.7 343.4,105.5C343.8,103.3 344.3,102.1 344.7,101.9C345.1,101.7 345.6,103.0 346.0,104.5C346.4,106.0 346.5,106.8 347.2,110.8C347.9,114.8 349.3,124.0 350.2,128.5C351.1,133.1 351.8,137.4 352.8,138.1C353.8,138.9 355.2,134.6 356.1,133.0C357.0,131.4 357.5,129.4 358.2,128.5C358.9,127.5 359.5,127.1 360.1,127.3C360.7,127.5 361.3,128.1 362.0,129.5C362.7,130.9 363.3,132.8 364.2,135.9C365.1,138.9 366.1,143.8 367.2,147.8C368.3,151.8 369.7,155.4 370.9,159.6C372.1,163.8 373.5,168.7 374.6,172.9C375.7,177.1 376.3,178.2 377.5,185.0C378.7,191.8 380.4,204.7 381.7,213.7C383.0,222.7 383.8,232.3 385.1,239.1C386.4,245.9 388.1,250.9 389.3,254.3C390.5,257.7 392.0,258.5 392.5,259.3Z" fill="#6dab3c"/>
<path d="M260.4,259.3C262.0,258.4 267.4,256.3 269.8,253.8C272.2,251.3 272.9,248.8 274.5,244.5C276.1,240.2 277.6,233.6 279.2,228.1C280.8,222.6 282.3,217.2 283.9,211.7C285.4,206.2 287.1,200.4 288.5,195.3C289.9,190.2 291.0,185.4 292.0,181.0C293.0,176.6 293.6,172.3 294.7,168.9C295.8,165.5 297.8,162.2 298.9,160.8C300.0,159.4 300.5,160.4 301.5,160.6C302.5,160.8 303.4,164.1 304.8,162.1C306.2,160.1 308.3,153.4 309.9,148.6C311.4,143.8 313.0,137.0 314.1,133.4C315.2,129.8 315.8,128.2 316.5,126.8C317.2,125.4 317.8,124.9 318.4,124.9C319.0,124.9 319.7,125.9 320.4,127.0C321.1,128.1 321.7,129.2 322.6,131.7C323.5,134.2 324.6,138.4 326.0,141.8C327.4,145.2 329.4,147.8 331.0,152.0C332.6,156.2 333.8,162.4 335.3,167.2C336.8,172.0 338.9,177.7 340.0,180.7C341.1,183.7 340.5,180.9 342.0,185.0C343.5,189.1 346.6,197.7 348.8,205.3C351.1,212.9 353.2,223.4 355.5,230.7C357.8,238.0 359.8,244.8 362.3,249.3C364.8,253.8 368.6,256.1 370.7,257.8C372.8,259.5 374.3,259.0 375.0,259.3Z" fill="#3e6b27"/>
<path d="M213.0,259.3C213.8,258.0 216.3,254.8 217.9,251.5C219.5,248.2 220.7,243.7 222.6,239.8C224.5,235.9 227.1,231.6 229.6,228.1C232.1,224.6 235.5,223.4 237.8,218.7C240.2,214.0 241.7,206.2 243.7,200.0C245.7,193.8 248.5,186.4 250.0,181.2C251.5,176.0 251.3,172.8 252.6,168.7C253.9,164.6 255.7,161.1 257.7,156.9C259.7,152.7 262.7,146.9 264.4,143.4C266.1,139.9 266.9,137.8 268.0,136.0C269.1,134.2 270.0,132.7 271.0,132.6C272.0,132.5 273.1,134.4 274.0,135.5C274.9,136.6 274.8,137.8 276.1,139.3C277.4,140.8 280.4,142.0 282.0,144.4C283.6,146.8 284.3,149.9 285.4,153.7C286.5,157.5 287.7,162.6 288.8,167.2C289.9,171.8 291.1,176.1 292.2,181.0C293.3,185.9 294.3,192.3 295.7,196.6C297.1,200.9 298.9,204.0 300.7,206.8C302.5,209.6 305.1,210.4 306.7,213.5C308.2,216.6 308.6,220.6 310.0,225.4C311.4,230.2 313.3,237.5 315.1,242.3C316.9,247.1 319.2,251.3 321.0,254.1C322.8,256.9 325.2,258.4 326.0,259.3Z" fill="#925637"/>
<path d="M166.4,259.3C167.6,258.4 171.1,256.7 173.4,253.8C175.7,250.9 178.1,246.8 180.4,242.1C182.8,237.4 185.3,231.6 187.5,225.7C189.7,219.9 191.2,213.2 193.3,207.0C195.5,200.8 198.4,195.5 200.4,188.3C202.4,181.1 204.0,168.6 205.2,163.7C206.4,158.8 206.7,161.4 207.8,158.6C208.9,155.8 210.9,149.6 212.0,146.8C213.1,144.0 213.6,142.8 214.3,141.7C215.0,140.6 215.5,140.3 216.2,140.3C216.9,140.3 217.2,140.4 218.5,141.5C219.8,142.6 222.4,146.2 223.8,146.8C225.2,147.4 225.8,146.7 227.0,145.0C228.2,143.3 230.0,138.3 231.0,136.5C232.0,134.7 232.3,133.5 233.1,134.1C233.9,134.7 234.7,136.5 235.7,140.0C236.7,143.5 237.7,149.8 239.0,155.2C240.3,160.5 242.0,167.3 243.3,172.1C244.6,176.9 245.6,179.3 246.7,184.0C247.8,188.7 248.6,194.0 250.0,200.0C251.4,206.0 253.4,214.9 255.1,220.3C256.8,225.6 258.1,228.2 260.1,232.1C262.1,236.1 264.6,240.9 266.9,244.0C269.2,247.1 270.9,248.5 273.7,250.7C276.5,253.0 281.1,256.1 283.8,257.5C286.5,258.9 289.0,259.0 290.0,259.3Z" fill="#db8256"/>
<path d="M137.8,259.3C138.4,258.3 140.3,256.1 141.6,253.5C142.9,250.8 144.2,247.2 145.4,243.4C146.6,239.6 147.6,234.8 148.5,230.7C149.4,226.6 149.9,224.5 151.0,219.0C152.1,213.5 153.6,204.0 155.0,197.5C156.4,191.0 158.1,184.9 159.6,180.0C161.1,175.1 162.2,172.0 163.8,167.8C165.4,163.7 167.2,158.1 168.9,155.1C170.6,152.1 172.3,151.6 174.0,150.0C175.7,148.4 177.3,148.2 179.0,145.8C180.7,143.4 182.5,140.2 184.1,135.7C185.7,131.2 187.3,122.8 188.4,118.8C189.5,114.8 190.1,113.0 190.8,111.5C191.5,110.0 192.0,109.4 192.6,109.5C193.2,109.6 193.9,110.5 194.6,112.0C195.3,113.5 195.9,114.9 196.8,118.8C197.7,122.8 198.9,130.1 200.2,135.7C201.5,141.3 203.0,145.6 204.4,152.6C205.8,159.7 207.2,169.5 208.6,178.0C210.0,186.5 211.4,195.5 212.8,203.4C214.2,211.3 215.3,218.6 217.1,225.4C218.9,232.2 221.6,239.2 223.8,244.0C226.1,248.8 228.1,251.6 230.6,254.1C233.1,256.7 237.6,258.4 239.0,259.3Z" fill="#cc1616"/>
<path d="M140.3,249.6C139.4,249.6 135.6,249.6 134.6,249.6C133.6,249.6 134.4,251.5 134.6,249.6C134.8,247.7 135.0,243.3 135.6,238.0C136.2,232.7 137.8,224.7 138.4,218.0C139.0,211.3 138.8,207.2 139.2,198.0C139.6,188.8 140.4,179.4 141.0,163.0C141.6,146.6 142.3,114.3 142.7,99.8C143.1,85.3 143.1,85.6 143.5,76.0C143.9,66.4 144.6,52.2 145.2,42.3C145.8,32.5 146.4,22.9 146.9,16.9C147.4,10.8 147.9,8.4 148.3,6.0C148.7,3.6 149.1,2.3 149.5,2.5C149.9,2.7 150.2,3.2 150.8,7.0C151.4,10.8 151.9,17.3 152.8,25.4C153.7,33.5 155.2,47.9 156.2,55.8C157.2,63.7 158.0,70.5 158.8,72.7C159.6,74.9 160.3,69.8 161.0,69.0C161.7,68.2 162.3,67.5 163.0,67.7C163.7,67.9 164.4,68.9 165.0,70.0C165.6,71.1 165.5,72.8 166.4,74.4C167.3,76.0 169.1,80.6 170.6,79.5C172.1,78.4 174.3,73.9 175.7,67.7C177.1,61.5 178.0,50.2 179.0,42.3C180.0,34.4 180.9,25.0 181.6,20.3C182.2,15.7 182.3,13.5 182.9,14.4C183.5,15.2 184.2,16.5 185.0,25.4C185.8,34.3 186.8,55.3 187.5,67.7C188.2,80.1 188.6,91.4 189.2,99.8C189.8,108.2 190.5,111.1 191.0,118.0C191.5,124.9 191.8,131.6 192.2,141.4C192.6,151.1 192.9,164.8 193.3,176.5C193.7,188.2 193.9,201.2 194.5,211.7C195.1,222.3 195.8,231.9 196.8,239.8C197.8,247.7 199.8,256.0 200.4,259.3" fill="none" stroke="#15150c" stroke-opacity="0.85" stroke-width="0.85"/>
<path d="M135.2,259.3C135.6,258.7 137.0,257.6 137.8,256.0C138.7,254.4 139.6,252.9 140.3,249.7C141.0,246.5 141.6,242.3 142.2,237.0C142.8,231.7 143.0,224.5 143.7,218.0C144.4,211.5 145.5,205.0 146.3,198.0C147.1,191.0 147.5,185.6 148.6,176.0C149.7,166.4 151.8,153.4 152.8,140.7C153.8,128.0 154.1,107.5 154.5,99.8C154.9,92.1 155.0,97.5 155.4,94.7C155.8,91.9 156.4,86.3 157.1,82.9C157.8,79.5 158.2,75.1 159.6,74.4C161.0,73.7 163.4,77.2 165.5,78.6C167.6,80.0 170.5,83.6 172.3,82.9C174.1,82.2 175.1,80.6 176.5,74.4C177.9,68.2 179.4,54.7 180.7,45.7C182.0,36.7 183.2,26.1 184.1,20.3C185.0,14.5 185.4,13.0 186.0,11.0C186.6,9.0 187.2,7.8 187.8,8.1C188.4,8.4 188.9,10.1 189.4,13.0C189.9,15.9 190.3,19.1 190.9,25.4C191.5,31.7 192.2,42.2 192.9,50.7C193.6,59.1 194.4,67.9 195.1,76.1C195.8,84.3 196.4,92.8 197.1,99.8C197.8,106.8 198.3,111.6 199.0,118.0C199.7,124.4 200.7,131.7 201.5,138.0C202.3,144.3 203.2,150.8 204.0,156.0C204.8,161.2 205.6,162.2 206.2,169.5C206.8,176.8 206.8,189.8 207.4,200.0C208.0,210.2 208.7,222.2 209.7,230.4C210.7,238.6 211.8,244.3 213.2,249.1C214.6,253.9 217.1,257.6 217.9,259.3" fill="none" stroke="#15150c" stroke-opacity="0.85" stroke-width="0.85"/>
<path d="M157.0,259.3C158.2,256.8 161.8,250.9 164.0,244.5C166.2,238.1 168.1,228.8 169.9,221.0C171.7,213.2 172.8,205.8 174.6,197.6C176.3,189.4 178.7,181.3 180.4,171.9C182.2,162.5 183.9,150.4 185.1,141.4C186.3,132.4 186.8,122.9 187.5,118.0C188.2,113.1 188.7,113.8 189.5,112.0C190.3,110.2 191.6,108.7 192.5,107.5C193.4,106.3 194.3,105.0 195.1,104.8C195.9,104.6 196.7,106.1 197.5,106.5C198.3,106.9 199.3,107.9 200.1,107.3C200.8,106.7 201.3,105.2 202.0,103.0C202.7,100.8 203.6,98.2 204.4,93.8C205.2,89.5 206.1,82.2 206.9,76.9C207.8,71.5 208.8,65.2 209.5,61.7C210.2,58.2 210.5,57.2 211.0,56.0C211.5,54.8 212.0,54.4 212.5,54.4C213.0,54.4 213.5,54.8 214.0,56.0C214.5,57.2 214.8,58.5 215.4,61.7C216.1,64.9 217.1,70.7 217.9,75.2C218.7,79.7 219.4,85.2 220.4,88.7C221.4,92.2 222.5,93.6 223.8,96.4C225.1,99.2 226.8,101.3 228.1,105.7C229.4,110.1 230.6,118.6 231.4,122.6C232.2,126.7 232.3,125.8 233.1,130.0C233.9,134.2 235.2,142.2 236.0,148.0C236.8,153.8 237.1,158.1 237.8,164.8C238.5,171.5 239.2,180.5 240.2,188.3C241.2,196.1 242.5,203.9 243.7,211.7C244.9,219.5 246.1,228.9 247.2,235.1C248.2,241.3 248.9,245.1 250.0,249.1C251.1,253.1 253.3,257.6 254.0,259.3" fill="none" stroke="#15150c" stroke-opacity="0.85" stroke-width="0.85"/>
<path d="M203.0,259.3C203.9,257.6 206.8,253.9 208.5,249.1C210.2,244.3 211.8,236.6 213.2,230.4C214.6,224.2 215.5,217.6 216.7,211.7C217.9,205.9 218.5,201.2 220.3,195.3C222.1,189.4 225.4,183.5 227.3,176.5C229.2,169.5 230.3,159.6 232.0,153.1C233.7,146.7 235.8,144.3 237.4,137.8C239.0,131.3 240.2,122.0 241.6,114.1C243.0,106.2 244.4,97.4 245.8,90.4C247.2,83.3 248.9,76.2 250.0,71.8C251.1,67.4 251.8,65.8 252.5,64.0C253.2,62.2 253.7,61.3 254.3,61.3C254.9,61.3 255.5,62.2 256.2,64.0C256.9,65.8 257.4,68.0 258.5,71.8C259.6,75.6 261.3,81.9 262.7,87.0C264.1,92.1 265.6,98.1 266.8,102.3C268.0,106.5 268.7,108.1 270.0,112.4C271.3,116.7 273.3,123.9 274.4,128.3C275.5,132.8 275.8,135.0 276.8,139.1C277.8,143.2 278.8,148.4 280.4,153.1C282.0,157.8 284.4,161.3 286.2,167.2C287.9,173.1 289.3,180.9 290.9,188.3C292.5,195.7 293.9,204.7 295.6,211.7C297.4,218.7 299.4,224.9 301.4,230.4C303.3,235.9 305.1,240.2 307.3,244.5C309.5,248.8 312.5,253.7 314.3,256.2C316.1,258.7 317.4,258.8 318.0,259.3" fill="none" stroke="#15150c" stroke-opacity="0.85" stroke-width="0.85"/>
<path d="M241.7,259.3C243.3,258.0 248.4,254.8 251.1,251.5C253.8,248.2 256.2,244.1 258.1,239.8C260.1,235.5 261.1,231.2 262.8,225.7C264.6,220.2 266.7,213.6 268.6,207.0C270.6,200.4 272.7,192.9 274.5,185.9C276.3,178.9 277.9,171.5 279.2,164.8C280.5,158.2 281.1,151.3 282.3,146.0C283.5,140.7 284.8,138.5 286.4,133.0C287.9,127.5 290.1,120.4 291.6,113.0C293.2,105.6 294.3,95.8 295.7,88.7C297.1,81.5 298.8,74.3 299.8,70.1C300.8,66.0 301.2,65.3 301.8,63.8C302.4,62.3 303.1,61.2 303.7,61.2C304.3,61.2 304.9,62.3 305.6,63.8C306.3,65.3 306.9,66.8 307.8,70.1C308.8,73.4 310.0,80.0 311.3,83.7C312.6,87.4 314.3,89.6 315.7,92.1C317.1,94.6 318.5,95.8 319.9,98.9C321.3,102.0 322.7,106.7 324.1,110.7C325.5,114.6 327.0,117.7 328.2,122.6C329.4,127.5 330.3,134.1 331.3,140.0C332.3,145.9 333.2,152.8 334.0,158.0C334.8,163.2 335.6,165.0 336.1,171.5C336.6,178.0 335.9,186.9 336.9,196.8C337.9,206.7 340.3,222.8 342.0,230.7C343.7,238.6 344.6,239.4 347.1,244.2C349.6,249.0 355.5,256.8 357.2,259.3" fill="none" stroke="#15150c" stroke-opacity="0.85" stroke-width="0.85"/>
<path d="M296.0,259.3C297.0,257.4 300.1,252.8 302.0,248.0C303.9,243.2 305.8,237.2 307.3,230.4C308.8,223.6 309.4,214.8 310.8,207.0C312.2,199.2 313.9,190.6 315.5,183.6C317.1,176.6 318.8,171.4 320.2,164.8C321.6,158.2 322.7,149.1 323.7,144.0C324.7,138.9 325.3,137.6 326.0,134.0C326.7,130.4 327.1,128.3 327.7,122.6C328.2,116.9 328.6,109.0 329.3,99.8C330.0,90.7 331.0,77.3 331.8,67.7C332.6,58.1 333.7,48.1 334.4,42.3C335.1,36.5 335.5,35.0 336.0,33.0C336.5,31.0 336.9,30.2 337.4,30.4C337.9,30.6 338.4,31.4 339.0,34.0C339.6,36.6 340.2,40.9 341.1,45.7C342.0,50.5 343.4,58.4 344.5,62.6C345.6,66.8 346.8,69.2 347.9,71.0C349.0,72.8 350.2,73.3 351.3,73.6C352.4,74.0 353.6,72.1 354.7,73.1C355.8,74.1 357.0,76.5 358.1,79.5C359.2,82.5 360.4,87.4 361.4,91.3C362.4,95.2 363.4,99.2 364.2,103.0C365.0,106.8 365.8,110.0 366.4,114.0C367.0,118.0 367.1,119.7 367.9,127.0C368.7,134.3 369.8,144.5 371.0,158.0C372.2,171.5 373.5,193.8 375.0,208.0C376.5,222.2 378.2,234.5 380.0,243.0C381.8,251.5 385.0,256.6 386.0,259.3" fill="none" stroke="#15150c" stroke-opacity="0.85" stroke-width="0.85"/>
<path d="M313.0,259.3C313.4,258.2 314.7,257.0 315.5,253.0C316.3,249.0 316.8,242.0 317.8,235.1C318.8,228.2 320.1,219.5 321.3,211.7C322.5,203.9 323.6,196.1 324.8,188.3C326.0,180.5 327.2,170.5 328.4,165.0C329.5,159.5 330.8,159.1 331.7,155.2C332.6,151.3 333.0,147.2 333.9,141.8C334.8,136.4 336.0,127.3 336.8,122.6C337.6,117.9 338.0,115.5 338.5,113.5C339.0,111.5 339.4,110.9 339.8,110.5C340.2,110.1 340.7,110.6 341.2,111.2C341.7,111.8 341.6,111.4 342.8,114.0C344.1,116.6 346.9,122.6 348.7,127.0C350.5,131.4 352.6,136.7 353.9,140.4C355.2,144.1 355.6,146.3 356.5,149.0C357.4,151.7 358.1,156.3 359.0,156.6C359.9,156.9 360.8,154.0 361.8,151.0C362.8,148.0 363.7,143.6 365.0,138.9C366.3,134.2 367.9,128.5 369.4,122.6C370.9,116.7 372.8,108.5 373.8,103.4C374.9,98.3 375.1,94.5 375.7,92.0C376.3,89.5 376.7,88.5 377.2,88.5C377.7,88.5 378.2,90.1 378.7,92.0C379.2,93.9 379.4,93.9 380.0,100.0C380.6,106.1 381.9,119.7 382.6,128.7C383.3,137.7 383.7,145.9 384.3,154.1C384.9,162.3 385.4,167.9 386.0,177.8C386.6,187.7 387.0,203.5 387.7,213.7C388.4,223.9 389.2,232.1 390.2,239.1C391.2,246.2 392.7,252.6 393.6,256.0C394.5,259.4 395.2,258.7 395.5,259.3" fill="none" stroke="#15150c" stroke-opacity="0.85" stroke-width="0.85"/>
<path d="M319.0,259.3C319.4,258.9 320.3,260.4 321.7,257.0C323.1,253.6 326.2,247.7 327.6,239.1C329.0,230.5 329.2,215.5 330.1,205.3C331.0,195.1 331.9,185.0 332.7,178.0C333.5,171.0 334.1,167.3 335.0,163.0C335.9,158.7 337.5,157.4 338.3,152.2C339.1,146.9 339.2,137.7 339.8,131.5C340.4,125.3 341.4,119.5 342.0,115.2C342.6,110.9 342.9,107.7 343.4,105.5C343.8,103.3 344.3,102.1 344.7,101.9C345.1,101.7 345.6,103.0 346.0,104.5C346.4,106.0 346.5,106.8 347.2,110.8C347.9,114.8 349.3,124.0 350.2,128.5C351.1,133.1 351.8,137.4 352.8,138.1C353.8,138.9 355.2,134.6 356.1,133.0C357.0,131.4 357.5,129.4 358.2,128.5C358.9,127.5 359.5,127.1 360.1,127.3C360.7,127.5 361.3,128.1 362.0,129.5C362.7,130.9 363.3,132.8 364.2,135.9C365.1,138.9 366.1,143.8 367.2,147.8C368.3,151.8 369.7,155.4 370.9,159.6C372.1,163.8 373.5,168.7 374.6,172.9C375.7,177.1 376.3,178.2 377.5,185.0C378.7,191.8 380.4,204.7 381.7,213.7C383.0,222.7 383.8,232.3 385.1,239.1C386.4,245.9 388.1,250.9 389.3,254.3C390.5,257.7 392.0,258.5 392.5,259.3" fill="none" stroke="#15150c" stroke-opacity="0.85" stroke-width="0.85"/>
<path d="M260.4,259.3C262.0,258.4 267.4,256.3 269.8,253.8C272.2,251.3 272.9,248.8 274.5,244.5C276.1,240.2 277.6,233.6 279.2,228.1C280.8,222.6 282.3,217.2 283.9,211.7C285.4,206.2 287.1,200.4 288.5,195.3C289.9,190.2 291.0,185.4 292.0,181.0C293.0,176.6 293.6,172.3 294.7,168.9C295.8,165.5 297.8,162.2 298.9,160.8C300.0,159.4 300.5,160.4 301.5,160.6C302.5,160.8 303.4,164.1 304.8,162.1C306.2,160.1 308.3,153.4 309.9,148.6C311.4,143.8 313.0,137.0 314.1,133.4C315.2,129.8 315.8,128.2 316.5,126.8C317.2,125.4 317.8,124.9 318.4,124.9C319.0,124.9 319.7,125.9 320.4,127.0C321.1,128.1 321.7,129.2 322.6,131.7C323.5,134.2 324.6,138.4 326.0,141.8C327.4,145.2 329.4,147.8 331.0,152.0C332.6,156.2 333.8,162.4 335.3,167.2C336.8,172.0 338.9,177.7 340.0,180.7C341.1,183.7 340.5,180.9 342.0,185.0C343.5,189.1 346.6,197.7 348.8,205.3C351.1,212.9 353.2,223.4 355.5,230.7C357.8,238.0 359.8,244.8 362.3,249.3C364.8,253.8 368.6,256.1 370.7,257.8C372.8,259.5 374.3,259.0 375.0,259.3" fill="none" stroke="#15150c" stroke-opacity="0.85" stroke-width="0.85"/>
<path d="M213.0,259.3C213.8,258.0 216.3,254.8 217.9,251.5C219.5,248.2 220.7,243.7 222.6,239.8C224.5,235.9 227.1,231.6 229.6,228.1C232.1,224.6 235.5,223.4 237.8,218.7C240.2,214.0 241.7,206.2 243.7,200.0C245.7,193.8 248.5,186.4 250.0,181.2C251.5,176.0 251.3,172.8 252.6,168.7C253.9,164.6 255.7,161.1 257.7,156.9C259.7,152.7 262.7,146.9 264.4,143.4C266.1,139.9 266.9,137.8 268.0,136.0C269.1,134.2 270.0,132.7 271.0,132.6C272.0,132.5 273.1,134.4 274.0,135.5C274.9,136.6 274.8,137.8 276.1,139.3C277.4,140.8 280.4,142.0 282.0,144.4C283.6,146.8 284.3,149.9 285.4,153.7C286.5,157.5 287.7,162.6 288.8,167.2C289.9,171.8 291.1,176.1 292.2,181.0C293.3,185.9 294.3,192.3 295.7,196.6C297.1,200.9 298.9,204.0 300.7,206.8C302.5,209.6 305.1,210.4 306.7,213.5C308.2,216.6 308.6,220.6 310.0,225.4C311.4,230.2 313.3,237.5 315.1,242.3C316.9,247.1 319.2,251.3 321.0,254.1C322.8,256.9 325.2,258.4 326.0,259.3" fill="none" stroke="#15150c" stroke-opacity="0.85" stroke-width="0.85"/>
<path d="M166.4,259.3C167.6,258.4 171.1,256.7 173.4,253.8C175.7,250.9 178.1,246.8 180.4,242.1C182.8,237.4 185.3,231.6 187.5,225.7C189.7,219.9 191.2,213.2 193.3,207.0C195.5,200.8 198.4,195.5 200.4,188.3C202.4,181.1 204.0,168.6 205.2,163.7C206.4,158.8 206.7,161.4 207.8,158.6C208.9,155.8 210.9,149.6 212.0,146.8C213.1,144.0 213.6,142.8 214.3,141.7C215.0,140.6 215.5,140.3 216.2,140.3C216.9,140.3 217.2,140.4 218.5,141.5C219.8,142.6 222.4,146.2 223.8,146.8C225.2,147.4 225.8,146.7 227.0,145.0C228.2,143.3 230.0,138.3 231.0,136.5C232.0,134.7 232.3,133.5 233.1,134.1C233.9,134.7 234.7,136.5 235.7,140.0C236.7,143.5 237.7,149.8 239.0,155.2C240.3,160.5 242.0,167.3 243.3,172.1C244.6,176.9 245.6,179.3 246.7,184.0C247.8,188.7 248.6,194.0 250.0,200.0C251.4,206.0 253.4,214.9 255.1,220.3C256.8,225.6 258.1,228.2 260.1,232.1C262.1,236.1 264.6,240.9 266.9,244.0C269.2,247.1 270.9,248.5 273.7,250.7C276.5,253.0 281.1,256.1 283.8,257.5C286.5,258.9 289.0,259.0 290.0,259.3" fill="none" stroke="#15150c" stroke-opacity="0.85" stroke-width="0.85"/>
<path d="M137.8,259.3C138.4,258.3 140.3,256.1 141.6,253.5C142.9,250.8 144.2,247.2 145.4,243.4C146.6,239.6 147.6,234.8 148.5,230.7C149.4,226.6 149.9,224.5 151.0,219.0C152.1,213.5 153.6,204.0 155.0,197.5C156.4,191.0 158.1,184.9 159.6,180.0C161.1,175.1 162.2,172.0 163.8,167.8C165.4,163.7 167.2,158.1 168.9,155.1C170.6,152.1 172.3,151.6 174.0,150.0C175.7,148.4 177.3,148.2 179.0,145.8C180.7,143.4 182.5,140.2 184.1,135.7C185.7,131.2 187.3,122.8 188.4,118.8C189.5,114.8 190.1,113.0 190.8,111.5C191.5,110.0 192.0,109.4 192.6,109.5C193.2,109.6 193.9,110.5 194.6,112.0C195.3,113.5 195.9,114.9 196.8,118.8C197.7,122.8 198.9,130.1 200.2,135.7C201.5,141.3 203.0,145.6 204.4,152.6C205.8,159.7 207.2,169.5 208.6,178.0C210.0,186.5 211.4,195.5 212.8,203.4C214.2,211.3 215.3,218.6 217.1,225.4C218.9,232.2 221.6,239.2 223.8,244.0C226.1,248.8 228.1,251.6 230.6,254.1C233.1,256.7 237.6,258.4 239.0,259.3" fill="none" stroke="#15150c" stroke-opacity="0.85" stroke-width="0.85"/>
</g>
<line x1="55.1" y1="259.3" x2="472.5" y2="259.3" stroke="#000" stroke-width="1.5"/>
<g opacity="0.999">
<text transform="translate(52,260.0) scale(0.95,1)" text-anchor="end" class="tk">0.00</text>
<text transform="translate(52,213.3) scale(0.95,1)" text-anchor="end" class="tk">0.02</text>
<text transform="translate(52,161.8) scale(0.95,1)" text-anchor="end" class="tk">0.04</text>
<text transform="translate(52,110.3) scale(0.95,1)" text-anchor="end" class="tk">0.06</text>
<text transform="translate(52,58.8) scale(0.95,1)" text-anchor="end" class="tk">0.08</text>
<text transform="translate(52,12.0) scale(0.95,1)" text-anchor="end" class="tk">0.10</text>
<text transform="translate(97.5,278.8) scale(0.95,1)" text-anchor="middle" class="tk">-40</text>
<text transform="translate(180.7,278.8) scale(0.95,1)" text-anchor="middle" class="tk">-20</text>
<text transform="translate(263.7,278.8) scale(0.95,1)" text-anchor="middle" class="tk">0</text>
<text transform="translate(346.9,278.8) scale(0.95,1)" text-anchor="middle" class="tk">20</text>
<text transform="translate(430.1,278.8) scale(0.95,1)" text-anchor="middle" class="tk">40</text>
<text transform="translate(263.7,296.2) scale(0.98,1)" text-anchor="middle" class="ax">DECLINATION</text>
<text transform="translate(12.1,130.2) rotate(-90)" text-anchor="middle" class="ax" style="font-size:15.6px">frequency</text>
<line x1="76.4" y1="27.2" x2="97" y2="27.2" stroke="#f6e01c" stroke-width="1.4"/>
<text x="101.6" y="30.4" class="lg">Eq. Pr.</text>
<line x1="76.4" y1="40.2" x2="97" y2="40.2" stroke="#62a628" stroke-width="1.4"/>
<text x="101.6" y="43.4" class="lg">S.V.</text>
<line x1="76.4" y1="53.2" x2="97" y2="53.2" stroke="#9b532c" stroke-width="1.4"/>
<text x="101.6" y="56.4" class="lg">Eq.Ot.</text>
<line x1="76.4" y1="66.2" x2="97" y2="66.2" stroke="#2a2a8c" stroke-width="1.4"/>
<text x="101.6" y="69.4" class="lg">S.I.</text>
</g>
</g>
</svg>
</body></html>
